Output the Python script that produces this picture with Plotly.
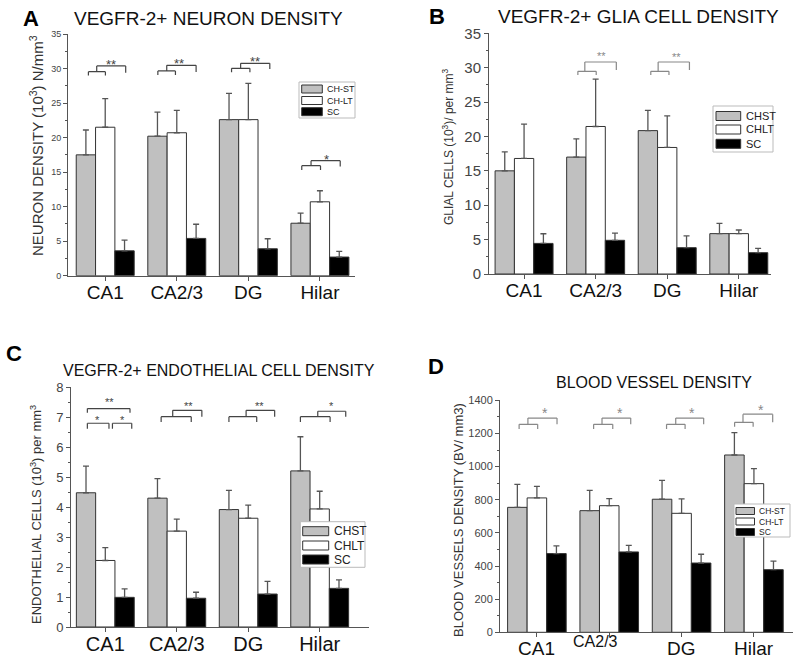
import plotly.graph_objects as go

# ---------------- data ----------------
categories = ["CA1", "CA2/3", "DG", "Hilar"]

# Panel A - VEGFR-2+ neuron density (10^3 N/mm^3)
a_names = ["CH-ST", "CH-LT", "SC"]
a_chst = [17.5, 20.2, 22.6, 7.6]
a_chst_err = [3.6, 3.5, 3.8, 1.45]
a_chlt = [21.5, 20.7, 22.6, 10.7]
a_chlt_err = [4.15, 3.25, 5.25, 1.6]
a_sc = [3.6, 5.4, 3.9, 2.7]
a_sc_err = [1.55, 2.05, 1.45, 0.82]

# Panel B - VEGFR-2+ glia cell density
b_names = ["CHST", "CHLT", "SC"]
b_chst = [15.0, 17.0, 20.85, 5.87]
b_chst_err = [2.75, 2.65, 2.95, 1.5]
b_chlt = [16.8, 21.45, 18.4, 5.87]
b_chlt_err = [5.0, 6.9, 4.6, 0.53]
b_sc = [4.45, 4.9, 3.83, 3.1]
b_sc_err = [1.4, 1.05, 1.7, 0.63]

# Panel C - VEGFR-2+ endothelial cell density
c_names = ["CHST", "CHLT", "SC"]
c_chst = [4.48, 4.3, 3.92, 5.21]
c_chst_err = [0.89, 0.65, 0.64, 1.14]
c_chlt = [2.22, 3.2, 3.63, 3.94]
c_chlt_err = [0.43, 0.4, 0.44, 0.59]
c_sc = [0.99, 0.96, 1.1, 1.29]
c_sc_err = [0.28, 0.2, 0.42, 0.28]

# Panel D - blood vessel density (BV/mm3)
d_names = ["CH-ST", "CH-LT", "SC"]
d_chst = [754, 734, 803, 1070]
d_chst_err = [139, 123, 114, 135]
d_chlt = [811, 764, 718, 897]
d_chlt_err = [70, 43, 87, 91]
d_sc = [475, 485, 418, 378]
d_sc_err = [46, 40, 53, 52]

# significance brackets: (category index, left slot, right slot, top, left end, right end)
a_brackets = [
    (0, 0.13, 1.01, 29.55, 29.0, 29.0), (0, 0.56, 2.06, 30.37, 29.55, 29.4),
    (1, 0.02, 0.93, 29.65, 29.07, 29.07), (1, 0.48, 2.0, 30.47, 29.65, 29.5),
    (2, 0.13, 1.08, 30.03, 29.45, 29.45), (2, 0.6, 2.11, 30.76, 30.03, 29.94),
    (3, 0.06, 1.03, 15.93, 15.3, 15.3), (3, 0.54, 2.05, 16.66, 15.93, 15.8),
]
a_stars = [(0, 1.3, 31.0, "**"), (1, 1.14, 31.1, "**"), (2, 1.34, 31.5, "**"), (3, 1.32, 17.3, "*")]

b_brackets = [
    (1, 0.08, 1.03, 29.47, 28.94, 28.94), (1, 0.44, 2.07, 30.83, 29.47, 29.67),
    (2, 0.15, 1.09, 29.47, 28.94, 28.94), (2, 0.53, 2.15, 30.83, 29.47, 29.67),
]
b_stars = [(1, 1.28, 32.1, "**"), (2, 1.47, 32.0, "**")]

c_brackets = [
    (0, 0.07, 2.28, 7.29, 7.15, 7.15), (0, 0.07, 1.19, 6.8, 6.62, 6.62), (0, 1.37, 2.37, 6.8, 6.62, 6.62),
    (1, 0.19, 1.75, 7.02, 6.84, 6.84), (1, 0.79, 2.3, 7.23, 7.02, 7.02),
    (2, 0.0, 1.44, 7.02, 6.84, 6.84), (2, 0.89, 2.37, 7.23, 7.02, 7.02),
    (3, 0.0, 1.54, 7.02, 6.84, 6.84), (3, 0.9, 2.35, 7.2, 7.02, 7.02),
]
c_stars = [(0, 1.2, 7.6, "**"), (0, 0.62, 7.0, "*"), (0, 1.87, 7.0, "*"),
           (1, 1.6, 7.49, "**"), (2, 1.58, 7.49, "**"), (3, 1.59, 7.49, "*")]

d_brackets = [
    (0, 0.09, 1.04, 1255, 1227, 1227), (0, 0.54, 2.03, 1293, 1255, 1255),
    (1, 0.2, 1.18, 1255, 1227, 1227), (1, 0.63, 2.1, 1293, 1255, 1255),
    (2, 0.23, 1.18, 1255, 1227, 1227), (2, 0.7, 2.13, 1293, 1255, 1255),
    (3, 0.01, 0.96, 1267, 1241, 1241), (3, 0.44, 1.96, 1316, 1267, 1267),
]
d_stars = [(0, 1.42, 1342, "*"), (1, 1.53, 1342, "*"), (2, 1.53, 1342, "*"), (3, 1.34, 1358, "*")]

# ---------------- styling ----------------
W, H = 800, 663
FONT = "Arial, Liberation Sans, sans-serif"
FILLS = ["#c0c0c0", "#ffffff", "#000000"]
AXC = "#555555"
BARGAP = 0.19
SLOT = (1 - BARGAP) / 3


def px(x):
    return x / W


def py(y):
    return 1 - y / H


panels = [
    dict(n="", names=a_names, vals=[a_chst, a_chlt, a_sc], errs=[a_chst_err, a_chlt_err, a_sc_err],
         brackets=a_brackets, stars=a_stars, bcolor="#444444", starsize=13,
         xdom=(68, 355), ydom=(34, 275.7), xr=(-0.52, 3.49), yr=(0, 35), dtick=5, minor=2.5,
         tickfs=9, xfs=19, letter="A", lpos=(31, 18), title="VEGFR-2+ NEURON DENSITY", tpos=(208, 18), tfs=19,
         ytitle="NEURON DENSITY (10<sup>3</sup>) N/mm<sup>3</sup>", ytpos=(36, 146), ytfs=15,
         leg=dict(box=(299, 82, 355, 118), sw=(301.7, 322.3, 8), rows=(89, 100.5, 111.7), tx=325, fs=9)),
    dict(n="2", names=b_names, vals=[b_chst, b_chlt, b_sc], errs=[b_chst_err, b_chlt_err, b_sc_err],
         brackets=b_brackets, stars=b_stars, bcolor="#888888", starsize=11,
         xdom=(489, 771), ydom=(33.3, 274), xr=(-0.49, 3.45), yr=(0, 35), dtick=5, minor=2.5,
         tickfs=15, xfs=19, letter="B", lpos=(437, 16), title="VEGFR-2+ GLIA CELL DENSITY", tpos=(638, 16), tfs=19,
         ytitle="GLIAL CELLS (10<sup>3</sup>)/ per mm<sup>3</sup>", ytpos=(448, 147), ytfs=12,
         leg=dict(box=(713, 106, 773, 152), sw=(716, 740.7, 9), rows=(116, 129.5, 143.8), tx=744, fs=11)),
    dict(n="3", names=c_names, vals=[c_chst, c_chlt, c_sc], errs=[c_chst_err, c_chlt_err, c_sc_err],
         brackets=c_brackets, stars=c_stars, bcolor="#444444", starsize=11,
         xdom=(71, 369), ydom=(387.3, 627), xr=(-0.48, 3.69), yr=(0, 8), dtick=1, minor=0.5,
         tickfs=13, xfs=20, letter="C", lpos=(14, 353), title="VEGFR-2+ ENDOTHELIAL CELL DENSITY", tpos=(219, 370), tfs=16,
         ytitle="ENDOTHELIAL CELLS (10<sup>3</sup>) per mm<sup>3</sup>", ytpos=(36, 515), ytfs=13,
         leg=dict(box=(300.3, 521.7, 365, 567.3), sw=(302.7, 328.7, 9), rows=(531.2, 545.5, 559.5), tx=331.7, fs=12)),
    dict(n="4", names=d_names, vals=[d_chst, d_chlt, d_sc], errs=[d_chst_err, d_chlt_err, d_sc_err],
         brackets=d_brackets, stars=d_stars, bcolor="#888888", starsize=14,
         xdom=(500, 793), ydom=(400.3, 632.3), xr=(-0.51, 3.54), yr=(0, 1400), dtick=200, minor=100,
         tickfs=11, xfs=19, letter="D", lpos=(436, 366), title="BLOOD VESSEL DENSITY", tpos=(654, 383), tfs=16,
         ytitle="BLOOD VESSELS DENSITY (BV/ mm3)", ytpos=(458, 520), ytfs=13,
         leg=dict(box=(734, 504, 790, 537), sw=(736, 754.5, 7), rows=(511, 521.5, 532), tx=757, fs=8.5)),
]

fig = go.Figure()
shapes = []
annotations = []

for p in panels:
    xa = "x" + p["n"]
    ya = "y" + p["n"]
    for i in range(3):
        fig.add_trace(go.Bar(
            x=categories, y=p["vals"][i], name=p["names"][i], xaxis=xa, yaxis=ya,
            marker=dict(color=FILLS[i], line=dict(color="#333333", width=1)),
            error_y=dict(type="data", array=p["errs"][i], arrayminus=[0] * len(categories),
                         symmetric=False, color="#555555", thickness=1.3, width=3),
            showlegend=False, hoverinfo="skip"))

    key = p["n"]
    fig.layout["xaxis" + key] = dict(
        domain=[px(p["xdom"][0]), px(p["xdom"][1])], anchor=ya, type="category", automargin=False,
        range=list(p["xr"]), showline=True, linecolor=AXC, linewidth=1,
        ticks="outside", ticklen=4, tickcolor=AXC, showgrid=False, zeroline=False,
        showticklabels=(key != "4"), ticklabelstandoff=-5,
        tickfont=dict(family=FONT, size=p["xfs"], color="#111111"))
    fig.layout["yaxis" + key] = dict(
        domain=[py(p["ydom"][1]), py(p["ydom"][0])], anchor=xa, automargin=False,
        range=list(p["yr"]), dtick=p["dtick"], showline=True, linecolor=AXC, linewidth=1,
        ticks="outside", ticklen=4, tickcolor=AXC, showgrid=False, zeroline=False,
        minor=dict(ticks="outside", ticklen=2, tickcolor=AXC, dtick=p["minor"], showgrid=False),
        tickfont=dict(family=FONT, size=p["tickfs"], color="#444444"))

    # significance brackets
    for (ci, sl, sr, yt, yl, yr_) in p["brackets"]:
        xl = ci + (sl - 1) * SLOT
        xr = ci + (sr - 1) * SLOT
        ln = dict(color=p["bcolor"], width=1.2)
        for (x0, y0, x1, y1) in [(xl, yl, xl, yt), (xl, yt, xr, yt), (xr, yt, xr, yr_)]:
            shapes.append(dict(type="line", xref=xa, yref=ya, x0=x0, y0=y0, x1=x1, y1=y1, line=ln))
    for (ci, s, ys, txt) in p["stars"]:
        annotations.append(dict(x=ci + (s - 1) * SLOT, y=ys, xref=xa, yref=ya, text=txt, showarrow=False,
                                yanchor="middle", yshift=-3,
                                font=dict(family=FONT, size=p["starsize"], color=p["bcolor"])))

    # panel letter and title
    annotations.append(dict(x=px(p["lpos"][0]), y=py(p["lpos"][1]), xref="paper", yref="paper",
                            text="<b>" + p["letter"] + "</b>", showarrow=False, xanchor="center", yanchor="middle",
                            font=dict(family=FONT, size=22, color="#000000")))
    annotations.append(dict(x=px(p["tpos"][0]), y=py(p["tpos"][1]), xref="paper", yref="paper",
                            text=p["title"], showarrow=False, xanchor="center", yanchor="middle",
                            font=dict(family=FONT, size=p["tfs"], color="#111111")))
    annotations.append(dict(x=px(p["ytpos"][0]), y=py(p["ytpos"][1]), xref="paper", yref="paper",
                            text=p["ytitle"], textangle=-90, showarrow=False, xanchor="center", yanchor="middle",
                            font=dict(family=FONT, size=p["ytfs"], color="#333333")))

    # legend box
    lg = p["leg"]
    bx0, by0, bx1, by1 = lg["box"]
    shapes.append(dict(type="rect", xref="paper", yref="paper", x0=px(bx0), x1=px(bx1), y0=py(by1), y1=py(by0),
                       line=dict(color="#bbbbbb", width=1), fillcolor="#ffffff", layer="above"))
    for i, (rowy, nm) in enumerate(zip(lg["rows"], p["names"])):
        hh = lg["sw"][2] / 2
        shapes.append(dict(type="rect", xref="paper", yref="paper", x0=px(lg["sw"][0]), x1=px(lg["sw"][1]),
                           y0=py(rowy + hh), y1=py(rowy - hh), fillcolor=FILLS[i],
                           line=dict(color="#333333", width=1), layer="above"))
        annotations.append(dict(x=px(lg["tx"]), y=py(rowy), xref="paper", yref="paper", text=nm,
                                showarrow=False, xanchor="left", yanchor="middle",
                                font=dict(family=FONT, size=lg["fs"], color="#222222")))

# Panel D category labels (CA2/3 drawn smaller and shifted, as in the figure)
d_label_style = {"CA1": (19, 0, 648), "CA2/3": (16, -14, 641.5), "DG": (19, 0, 648), "Hilar": (19, 0, 648)}
for cat in categories:
    fs, xs, yy = d_label_style[cat]
    annotations.append(dict(x=cat, y=py(yy), xref="x4", yref="paper", text=cat, showarrow=False,
                            xanchor="center", yanchor="middle", xshift=xs,
                            font=dict(family=FONT, size=fs, color="#111111")))

fig.update_layout(
    width=W, height=H, margin=dict(l=0, r=0, t=0, b=0, autoexpand=False),
    paper_bgcolor="white", plot_bgcolor="white",
    barmode="group", bargap=BARGAP, bargroupgap=0,
    showlegend=False, shapes=shapes, annotations=annotations,
    font=dict(family=FONT),
)

fig.write_html("out.html", config={"displayModeBar": False},
               post_script="document.body.style.margin='0px';document.body.style.overflow='hidden';")
